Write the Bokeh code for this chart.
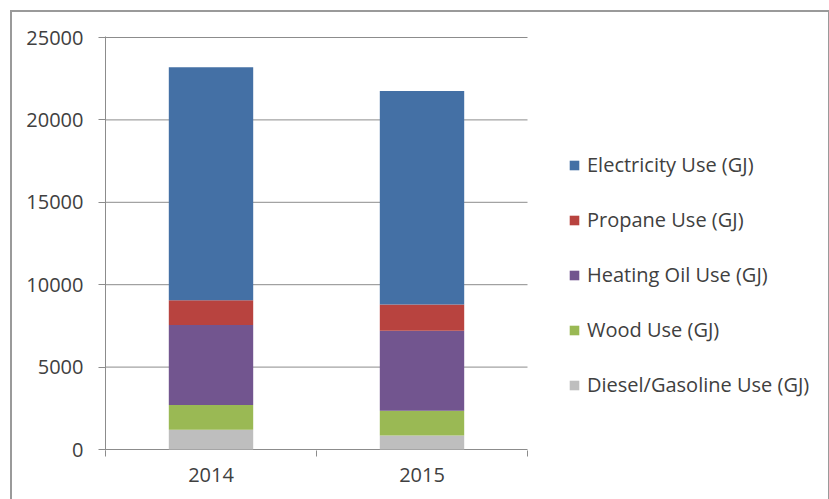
from bokeh.plotting import figure
from bokeh.models import (Range1d, FixedTicker, Legend, LegendItem, ColumnDataSource)
from bokeh.embed import file_html
from bokeh.resources import INLINE

years = ["2014", "2015"]
series = ["Diesel/Gasoline Use (GJ)", "Wood Use (GJ)", "Heating Oil Use (GJ)",
          "Propane Use (GJ)", "Electricity Use (GJ)"]
diesel = [1200, 850]
wood = [1500, 1500]
heating_oil = [4850, 4850]
propane = [1500, 1600]
electricity = [14150, 12950]
colors = ["#BEBEBE", "#9AB954", "#72558F", "#B8433F", "#4470A5"]
y_ticks = [0, 5000, 10000, 15000, 20000, 25000]

FONT = "Open Sans"
TXT = "#404040"
GRID = "#8c8c8c"

# layout (pixels)
W, H = 829, 499
LEFT, TOP, BOTTOM = 105, 36, 49          # frame: x 105..828, y 36..450
AXIS_W = 422                             # width of the category area
frame_w = W - LEFT - 1
x_end = len(years) * frame_w / AXIS_W
pad = 25000 * 1 / 412

xs = [i + 0.5 for i in range(len(years))]
keys = ["diesel", "wood", "heating_oil", "propane", "electricity"]
src = ColumnDataSource(dict(x=xs, diesel=diesel, wood=wood, heating_oil=heating_oil,
                            propane=propane, electricity=electricity))
grid_src = ColumnDataSource(dict(y=y_ticks, x0=[0] * len(y_ticks),
                                 x1=[len(years)] * len(y_ticks)))

p = figure(width=W, height=H, output_backend="svg", toolbar_location=None,
           x_range=Range1d(0, x_end), y_range=Range1d(-pad, 25000 + pad),
           min_border_left=LEFT, min_border_right=1, min_border_top=TOP,
           min_border_bottom=BOTTOM)
p.outline_line_color = None
p.background_fill_color = "white"
p.border_fill_color = "white"
p.stylesheets = [
    ":host::after { content: ''; position: absolute; left: 10px; top: 10px; "
    "width: 816px; height: 500px; border: 2px solid #9a9a9a; border-bottom: none; "
    "pointer-events: none; z-index: 10; }"
]

# horizontal gridlines (and the category axis line at 0), limited to the category area
p.segment(x0="x0", x1="x1", y0="y", y1="y", source=grid_src,
          line_color=GRID, line_width=1)

rs = p.vbar_stack(keys, x="x", width=0.4, color=colors, source=src, line_color=None)

# x axis: labels at category centres, tick marks at category boundaries
p.xaxis.ticker = FixedTicker(ticks=xs, minor_ticks=list(range(len(years) + 1)))
p.xaxis.major_label_overrides = {x: y for x, y in zip(xs, years)}
p.xaxis.major_tick_out = 0
p.xaxis.major_tick_in = 0
p.xaxis.minor_tick_out = 6
p.xaxis.minor_tick_in = 0
p.xaxis.minor_tick_line_color = GRID
p.xaxis.axis_line_color = None
p.xaxis.major_label_text_font = FONT
p.xaxis.major_label_text_font_size = "20px"
p.xaxis.major_label_text_color = TXT
p.xaxis.major_label_standoff = 11

p.yaxis.ticker = FixedTicker(ticks=y_ticks)
p.yaxis.major_tick_out = 7
p.yaxis.major_tick_in = 0
p.yaxis.minor_tick_line_color = None
p.yaxis.major_tick_line_color = GRID
p.yaxis.axis_line_color = GRID
p.yaxis.major_label_text_font = FONT
p.yaxis.major_label_text_font_size = "20px"
p.yaxis.major_label_text_color = TXT
p.yaxis.major_label_standoff = 15

p.xgrid.grid_line_color = None
p.ygrid.grid_line_color = None

items = [LegendItem(label=lab, renderers=[r]) for lab, r in zip(series, rs)][::-1]
leg = Legend(items=items, location=(463, 52), padding=0, margin=0,
             glyph_width=12, glyph_height=12, label_standoff=7,
             label_height=22, spacing=28,
             label_text_font=FONT, label_text_font_size="20px",
             label_text_color=TXT, border_line_color=None,
             background_fill_alpha=0)
p.add_layout(leg, "center")

open("out.html", "w").write(file_html(p, INLINE))
